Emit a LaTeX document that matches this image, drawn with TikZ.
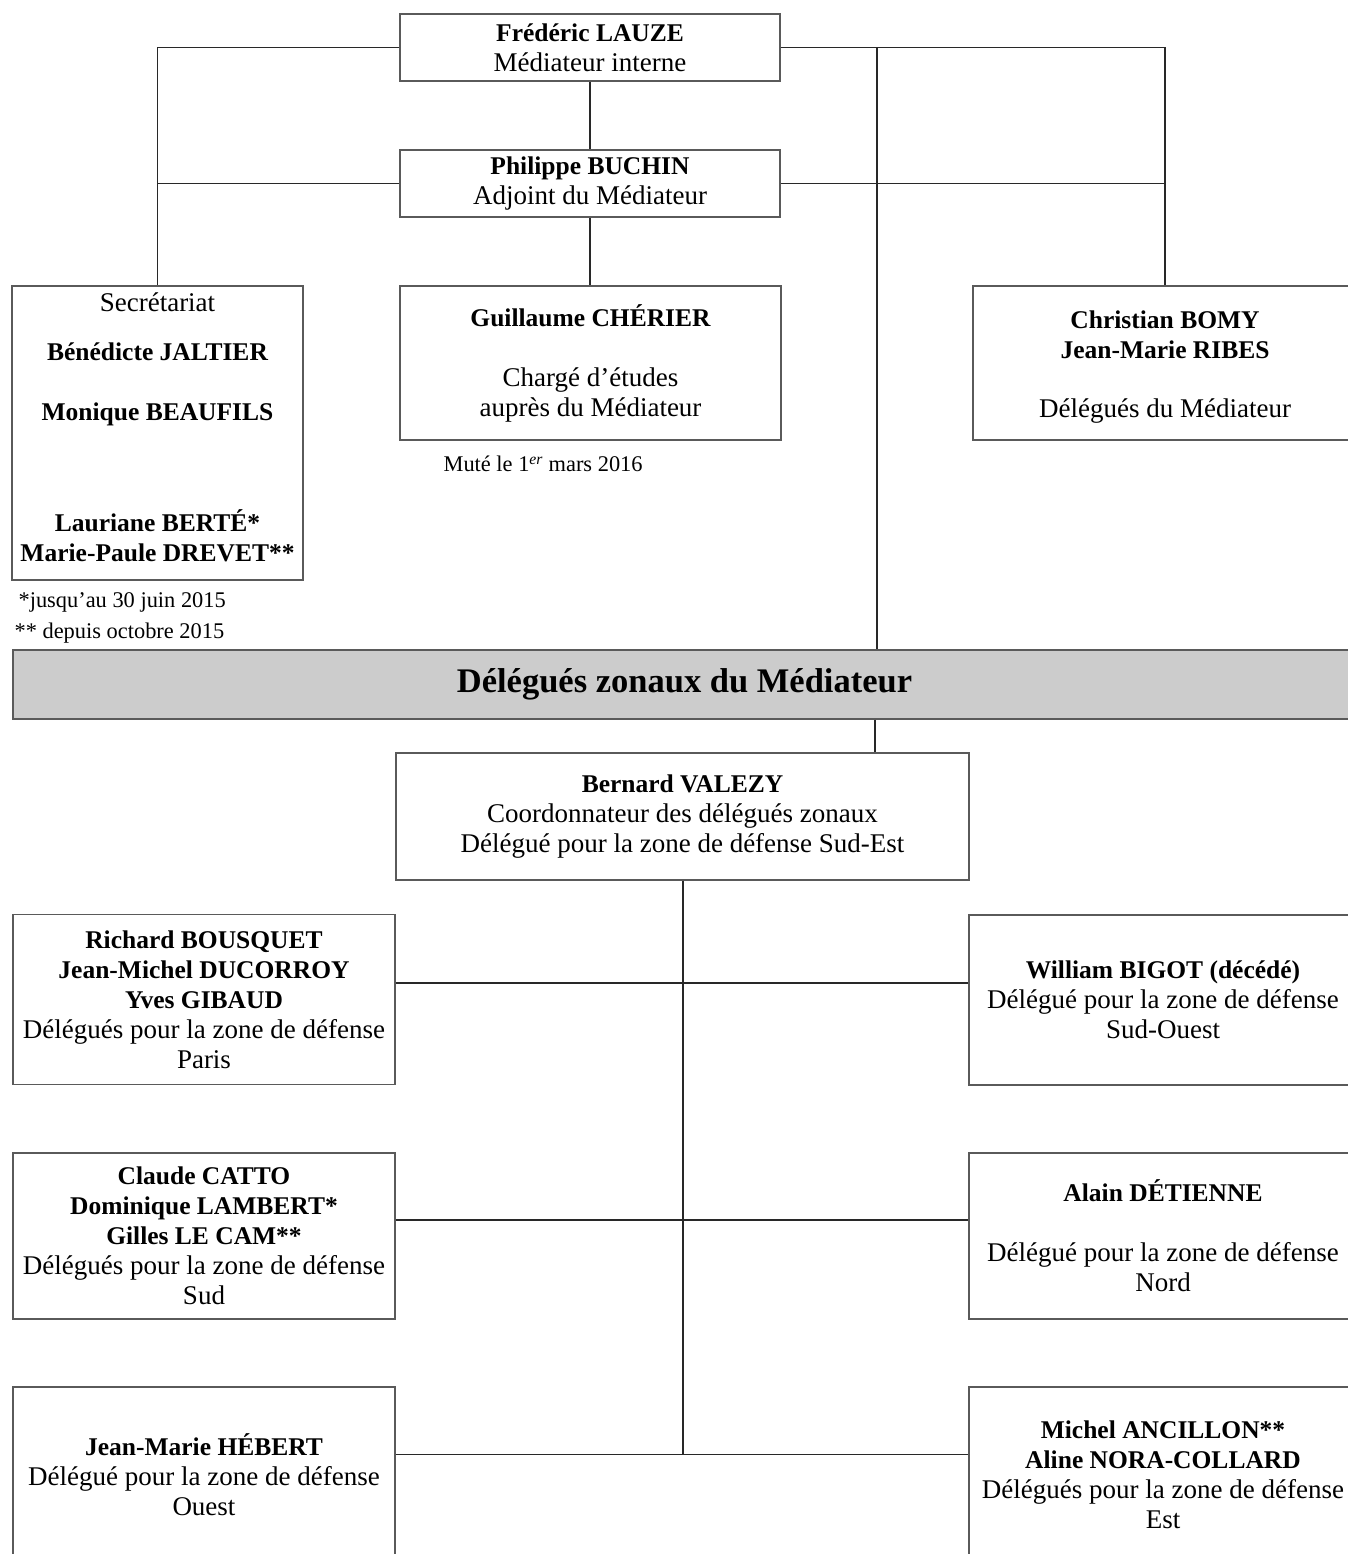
\documentclass[tikz,border=0pt]{standalone}
\usepackage{fontspec}
\setmainfont{Liberation Serif}

\newcommand{\nm}[1]{{\fontsize{25.5}{30}\selectfont\bfseries #1}}

\tikzset{every picture/.style={line width=1.2pt}}
\tikzset{
  box/.style={draw={rgb, 255:red, 90; green, 90; blue, 90}, rectangle, inner sep=0pt, align=center, font=\fontsize{27}{30}\selectfont},
  link/.style={draw={rgb, 255:red, 40; green, 40; blue, 40}},
  note/.style={anchor=west, inner sep=0pt, font=\fontsize{22.4}{26}\selectfont}
}

\begin{document}
\begin{tikzpicture}[x=1pt,y=1pt,yscale=-1,xscale=1]
\useasboundingbox (0,0) rectangle (1348,1554);

% Direction
\node[box, minimum width=380pt, minimum height=67pt] (lauze) at (590,47.5) {\nm{Frédéric LAUZE}\\Médiateur interne};
\node[box, minimum width=380pt, minimum height=67pt] (buchin) at (590,183.5) {\nm{Philippe BUCHIN}\\Adjoint du Médiateur};
\node[box, minimum width=291pt, minimum height=294pt] (secr) at (157.5,433) {Secrétariat\\[19pt]\nm{Bénédicte JALTIER}\\[30pt]\nm{Monique BEAUFILS}\\[81pt]\nm{Lauriane BERTÉ*}\\\nm{Marie-Paule DREVET**}\rule[-12pt]{0pt}{12pt}};
\node[box, minimum width=381pt, minimum height=154pt] (cherier) at (590.5,363) {\nm{Guillaume CHÉRIER}\\[30pt]Chargé d'études\\auprès du Médiateur};
\node[box, minimum width=384pt, minimum height=154pt] (bomy) at (1165,363) {\rule{0pt}{26pt}\nm{Christian BOMY}\\\nm{Jean-Marie RIBES}\\[29pt]Délégués du Médiateur};

% Notes
\node[note] (fnone) at (18,602) {*jusqu’au 30 juin 2015};
\node[note] (fntwo) at (14,633) {** depuis octobre 2015};
\node[note] (mute) at (443,464) {Muté le 1\textsuperscript{\textit{er}} mars 2016};

% Zonal delegates
\node[box, fill={rgb, 255:red, 204; green, 204; blue, 204}, minimum width=1343pt, minimum height=69pt, font=\fontsize{34.5}{40}\selectfont\bfseries] (bar) at (684.5,684.5) {Délégués zonaux du Médiateur};
\node[box, minimum width=573pt, minimum height=127pt] (valezy) at (682.5,816.5) {\nm{Bernard VALEZY}\\Coordonnateur des délégués zonaux\\Délégué pour la zone de défense Sud-Est};
\node[box, minimum width=382pt, minimum height=170pt] (paris) at (204,999.5) {\nm{Richard BOUSQUET}\\\nm{Jean-Michel DUCORROY}\\\nm{Yves GIBAUD}\\Délégués pour la zone de défense\\Paris};
\node[box, minimum width=388pt, minimum height=170pt] (sudouest) at (1163,1000) {\nm{William BIGOT (décédé)}\\Délégué pour la zone de défense\\Sud-Ouest};
\node[box, minimum width=382pt, minimum height=166pt] (sud) at (204,1236) {\nm{Claude CATTO}\\\nm{Dominique LAMBERT*}\\\nm{Gilles LE CAM**}\\Délégués pour la zone de défense\\Sud};
\node[box, minimum width=388pt, minimum height=166pt] (nord) at (1163,1236) {\nm{Alain DÉTIENNE}\\[30pt]Délégué pour la zone de défense\\Nord};
\node[box, minimum width=382pt, minimum height=176pt] (ouest) at (204,1475) {\nm{Jean-Marie HÉBERT}\\Délégué pour la zone de défense\\Ouest};
\node[box, minimum width=388pt, minimum height=176pt] (est) at (1163,1475) {\nm{Michel ANCILLON**}\\\nm{Aline NORA-COLLARD}\\Délégués pour la zone de défense\\Est};

% Junction points
\coordinate (zones) at (877,47.5);
\coordinate (barfoot) at (875,719);
\coordinate (trunk) at (683,1454.5);
\coordinate (rowone) at (683,983);
\coordinate (rowtwo) at (683,1220);

% Connectors
\draw[link] (lauze.south) -- (buchin.north);
\draw[link] (buchin.south) -- (buchin.south |- cherier.north);
\draw[link] (lauze.west) -| (secr.north);
\draw[link] (buchin.west) -- (buchin.west -| secr.north);
\draw[link] (lauze.east) -| (bomy.north);
\draw[link] (buchin.east) -- (buchin.east -| bomy.north);
\draw[link] (zones) -- (zones |- bar.north);
\draw[link] (barfoot |- bar.south) -- (barfoot |- valezy.north);
\draw[link] (trunk |- valezy.south) -- (trunk);
\draw[link] (rowone -| paris.east) -- (rowone -| sudouest.west);
\draw[link] (rowtwo -| sud.east) -- (rowtwo -| nord.west);
\draw[link] (trunk -| ouest.east) -- (trunk -| est.west);

\end{tikzpicture}
\end{document}
